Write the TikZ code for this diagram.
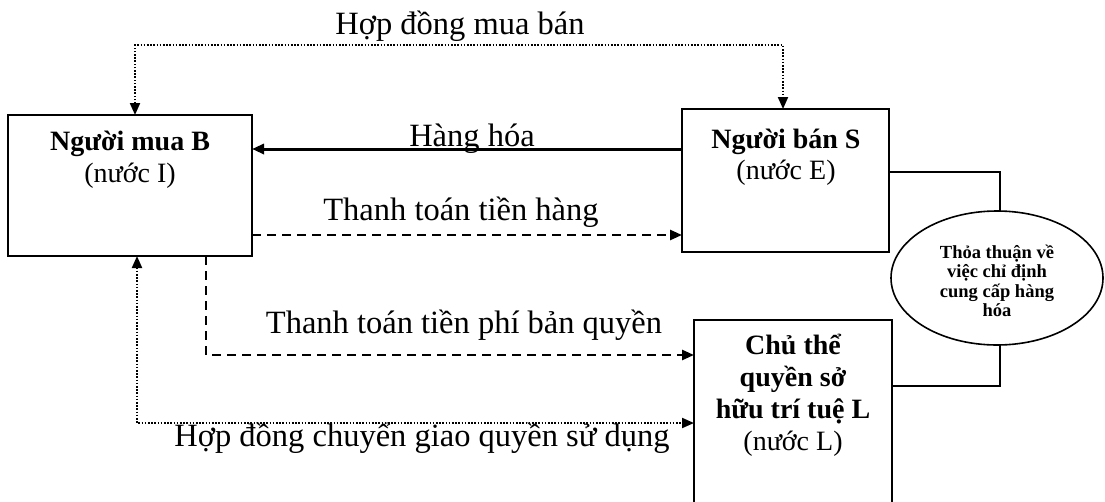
\documentclass[tikz,border=0pt]{standalone}
\usepackage{fontspec}
\setmainfont{Liberation Serif}
\usetikzlibrary{arrows.meta,shapes.geometric,calc}
\begin{document}
\begin{tikzpicture}[x=1pt,y=-1pt,
  boxn/.style={draw, line width=1.8pt, rectangle, inner sep=0pt, outer sep=0pt},
  lab/.style={font=\fontsize{32.5}{34}\selectfont, inner sep=0pt, anchor=base},
  blab/.style={font=\fontsize{28}{32}\selectfont\bfseries, inner sep=0pt, anchor=base},
  nlab/.style={font=\fontsize{28}{32}\selectfont, inner sep=0pt, anchor=base},
  elab/.style={font=\fontsize{18.5}{20}\selectfont\bfseries, inner sep=0pt, anchor=base},
  dotln/.style={line width=2pt, dash pattern=on 1.6pt off 1.6pt},
  dashln/.style={line width=2.6pt, dash pattern=on 9pt off 6pt},
  tip/.style={-{Triangle[length=12pt,width=10pt]}},
  tips/.style={{Triangle[length=12pt,width=10pt]}-{Triangle[length=12pt,width=10pt]}},
  conn/.style={line width=1.6pt}]
\useasboundingbox (0,0) rectangle (1105,501);

% boxes
\node[boxn, minimum width=244pt, minimum height=141pt] (B) at (130,185.5) {};
\node[boxn, minimum width=207pt, minimum height=143pt] (S) at (785.5,180.5) {};
\node[rectangle, inner sep=0pt, outer sep=0pt, minimum width=198pt, minimum height=190pt] (L) at (793,415) {};
\draw[line width=1.8pt] (L.south west) -- (L.north west) -- (L.north east) -- (L.south east);
\node[draw, ellipse, line width=1.6pt, inner sep=0pt, outer sep=0pt, minimum width=212pt, minimum height=134pt] (E) at (997,278) {};

% box labels
\node[blab] (B1) at (130,150) {Người mua B};
\node[nlab] (B2) at (130,182) {(nước I)};
\node[blab] (S1) at (786,148) {Người bán S};
\node[nlab] (S2) at (786,179) {(nước E)};
\node[blab] (L1) at (793,354) {Chủ thể};
\node[blab] (L2) at (793,386) {quyền sở};
\node[blab] (L3) at (793,418) {hữu trí tuệ L};
\node[nlab] (L4) at (793,450) {(nước L)};
\node[elab] (E1) at (997,258) {Thỏa thuận về};
\node[elab] (E2) at (997,277.5) {việc chỉ định};
\node[elab] (E3) at (997,297) {cung cấp hàng};
\node[elab] (E4) at (997,316.5) {hóa};

% connector coordinates
\coordinate (t1) at (135,45);
\coordinate (t2) at (783,45);
\coordinate (h) at (0,149);
\coordinate (p) at (0,235);
\coordinate (c1) at (206,355);
\coordinate (c2) at (137,423);
\coordinate (e1) at (1000,172);
\coordinate (e2) at (1000,386);

% connectors
\draw[dotln, tips] (t1 |- B.north) -- (t1) -- (t2) -- (t2 |- S.north);
\draw[line width=3pt, tip] (S.west |- h) -- (B.east |- h);
\draw[dashln, tip] (B.east |- p) -- (S.west |- p);
\draw[dashln, tip] (c1 |- B.south) -- (c1) -- (c1 -| L.west);
\draw[dotln, tips] (c2 |- B.south) -- (c2) -- (c2 -| L.west);
\draw[conn] (S.east |- e1) -- (e1) -- (e1 |- E.north);
\draw[conn] (L.east |- e2) -- (e2) -- (e2 |- E.south);

% connector labels
\node[lab] (lt) at (460,34) {Hợp đồng mua bán};
\node[lab] (lh) at (472,146) {Hàng hóa};
\node[lab] (lp) at (461,220) {Thanh toán tiền hàng};
\node[lab] (lq) at (464,333) {Thanh toán tiền phí bản quyền};
\node[lab] (lc) at (422,446) {Hợp đồng chuyển giao quyền sử dụng};
\end{tikzpicture}
\end{document}
